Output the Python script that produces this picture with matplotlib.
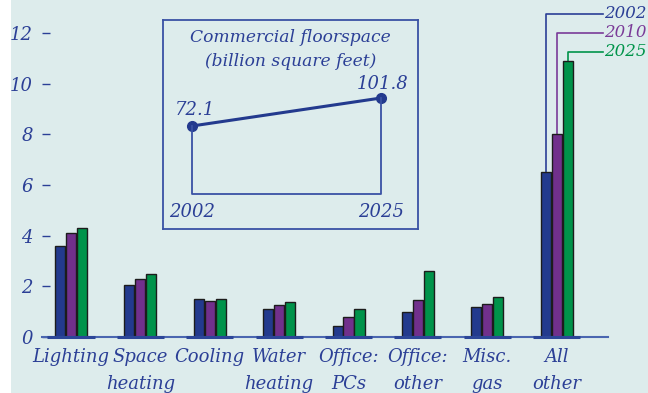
import matplotlib
matplotlib.use("Agg")
import matplotlib.pyplot as plt
from matplotlib.patches import Rectangle
import numpy as np

categories = ["Lighting", "Space\nheating", "Cooling", "Water\nheating",
              "Office:\nPCs", "Office:\nother", "Misc.\ngas", "All\nother"]
years = ["2002", "2010", "2025"]
v2002 = [3.6, 2.06, 1.5, 1.12, 0.45, 1.0, 1.2, 6.5]
v2010 = [4.1, 2.3, 1.43, 1.25, 0.78, 1.47, 1.3, 8.0]
v2025 = [4.3, 2.47, 1.5, 1.37, 1.12, 2.62, 1.59, 10.9]
yticks = [0, 2, 4, 6, 8, 10, 12]

floor_years = [2002, 2025]
floor_vals = [72.1, 101.8]

BG = "#ddecec"
BLUE_TXT = "#2b3f96"
colors = ["#233a8e", "#71308c", "#00934a"]
txt_colors = ["#2b3f96", "#7a3b98", "#00944a"]
FONT = "DejaVu Serif"

plt.rcParams["font.family"] = FONT
plt.rcParams["font.style"] = "italic"

fig = plt.figure(figsize=(6.48, 3.93), dpi=100, facecolor=BG)
fig.patches.append(Rectangle((0, 0), 11 / 648, 1, transform=fig.transFigure,
                             facecolor="white", edgecolor="none", zorder=0))

ax = fig.add_axes([42 / 648, 1 - 337 / 393, (608 - 42) / 648, 337 / 393])
ax.set_facecolor("none")
x = np.arange(len(categories))
w = 0.145
step = 0.158
for i, vals in enumerate([v2002, v2010, v2025]):
    ax.bar(x + (i - 1) * step, vals, width=w, color=colors[i],
           edgecolor="#1c1c1c", linewidth=1.0, zorder=3)

ax.set_xlim(-0.418, 7.74)
ax.set_ylim(0, 13.3)
for s in ["top", "right", "left"]:
    ax.spines[s].set_visible(False)
ax.spines["bottom"].set_color("#4a66b0")
ax.spines["bottom"].set_linewidth(1.5)
ax.spines["bottom"].set_zorder(4)
for xi in x:
    ax.plot([xi - 0.34, xi + 0.34], [0, 0], color="#2c4698", lw=2.2,
            solid_capstyle="butt", zorder=5, clip_on=False)

ax.set_yticks(yticks)
ax.set_yticklabels([str(t) for t in yticks], fontsize=13, color=BLUE_TXT)
ax.tick_params(axis="y", direction="in", length=6, width=1, color=BLUE_TXT, pad=6.5)
ax.set_xticks(x)
ax.set_xticklabels(categories, fontsize=13, color=BLUE_TXT, linespacing=1.6)
ax.tick_params(axis="x", length=0, pad=8)

# Legend-style labels at top right
levels = [12.75, 12.0, 11.25]
bar_tops = [v2002[-1], v2010[-1], v2025[-1]]
xend = (603 - 71) / 69.4
for i in range(3):
    xb = 7 + (i - 1) * step
    ax.plot([xb, xb, xend], [bar_tops[i], levels[i], levels[i]],
            color=txt_colors[i], lw=1.2, clip_on=False, zorder=2)
    ax.text(xend + 0.015, levels[i], years[i], color=txt_colors[i],
            fontsize=12, va="center", ha="left", clip_on=False)

# Inset
iax = fig.add_axes([163 / 648, 1 - 229 / 393, (418 - 163) / 648, (229 - 20) / 393])
iax.set_facecolor("none")
iax.set_xlim(1998.47, 2029.5)
iax.set_ylim(-37.1, 184.5)
iax.set_xticks([])
iax.set_yticks([])
for s in iax.spines.values():
    s.set_color("#3a52a4")
    s.set_linewidth(1.3)
iax.plot(floor_years, floor_vals, color="#233a8e", lw=2.2, marker="o", ms=7)
iax.plot([floor_years[0], floor_years[0], floor_years[1], floor_years[1]],
         [floor_vals[0], 0, 0, floor_vals[1]], color="#3a52a4", lw=1.3)
iax.text(0.5, 0.915, "Commercial floorspace", transform=iax.transAxes,
         ha="center", va="center", fontsize=12.3, color=BLUE_TXT)
iax.text(0.5, 0.80, "(billion square feet)", transform=iax.transAxes,
         ha="center", va="center", fontsize=12.3, color=BLUE_TXT)
iax.text(floor_years[0], -19, "2002", ha="center", va="center", fontsize=13, color=BLUE_TXT)
iax.text(floor_years[1], -19, "2025", ha="center", va="center", fontsize=13, color=BLUE_TXT)
iax.text(floor_years[0] + 0.4, floor_vals[0] + 17, "72.1", ha="center", va="center",
         fontsize=13, color=BLUE_TXT)
iax.text(floor_years[1] + 0.2, floor_vals[1] + 15, "101.8", ha="center", va="center",
         fontsize=13, color=BLUE_TXT)

fig.savefig("out.png", dpi=100, facecolor=BG)
